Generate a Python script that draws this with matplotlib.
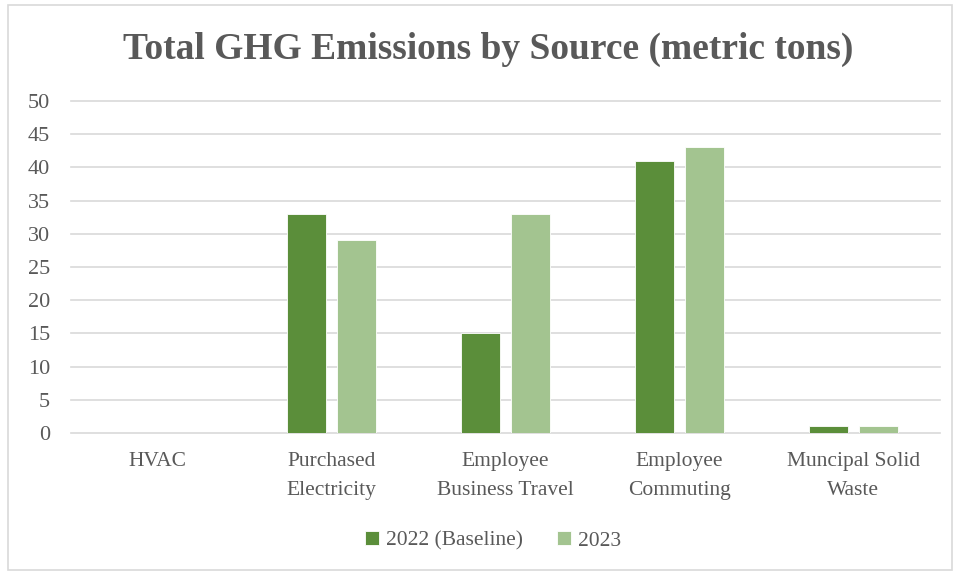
import matplotlib
matplotlib.use("Agg")
import matplotlib.pyplot as plt
import numpy as np
from matplotlib.patches import Rectangle

categories = ["HVAC", "Purchased\nElectricity", "Employee\nBusiness Travel",
              "Employee\nCommuting", "Muncipal Solid\nWaste"]
series_names = ["2022 (Baseline)", "2023"]
values_2022 = [0, 33, 15, 41, 1]
values_2023 = [0, 29, 33, 43, 1]
yticks = [0, 5, 10, 15, 20, 25, 30, 35, 40, 45, 50]

plt.rcParams['font.family'] = ['Liberation Serif', 'DejaVu Serif']
txt = '#595959'
c1 = '#5B8E3A'
c2 = '#A3C490'

W, H = 958, 575
fig = plt.figure(figsize=(W/100, H/100), dpi=100)
fig.patches.append(Rectangle((8/W, 5/H), 944/W, 565/H, transform=fig.transFigure,
                             fill=False, edgecolor='#D9D9D9', linewidth=1.2))
ax = fig.add_axes([71/W, 1-433/H, (940-71)/W, (433-101)/H])

x = np.arange(len(categories))
bw = 0.224
off = 0.1437
ax.bar(x - off, values_2022, bw, color=c1, edgecolor='white', linewidth=0.6, label=series_names[0], zorder=3)
ax.bar(x + off, values_2023, bw, color=c2, edgecolor='white', linewidth=0.6, label=series_names[1], zorder=3)

ax.set_xlim(-0.5, len(categories) - 0.5)
ax.set_ylim(0, 50)
ax.set_yticks(yticks)
ax.set_yticklabels([str(v) for v in yticks], fontsize=16, color=txt)
ax.set_xticks(x)
ax.set_xticklabels(categories, fontsize=15.5, color=txt, linespacing=1.7)
ax.tick_params(axis='both', length=0)
ax.tick_params(axis='y', pad=15)
ax.tick_params(axis='x', pad=14)
ax.grid(axis='y', color='#D9D9D9', linewidth=1.2, zorder=0)
for g in ax.get_ygridlines():
    g.set_clip_on(False)
for s in ax.spines.values():
    s.set_visible(False)

fig.text(488/W, 1-49/H, "Total GHG Emissions by Source (metric tons)", ha='center', va='center',
         fontsize=27, fontweight='bold', color=txt)

leg = fig.legend(loc='center', bbox_to_anchor=(493/W, 1-541/H), ncol=2, frameon=False,
                 fontsize=15.5, labelcolor=txt, handlelength=0.65, handleheight=0.65,
                 handletextpad=0.3, columnspacing=1.6)

fig.savefig("out.png", dpi=100)
